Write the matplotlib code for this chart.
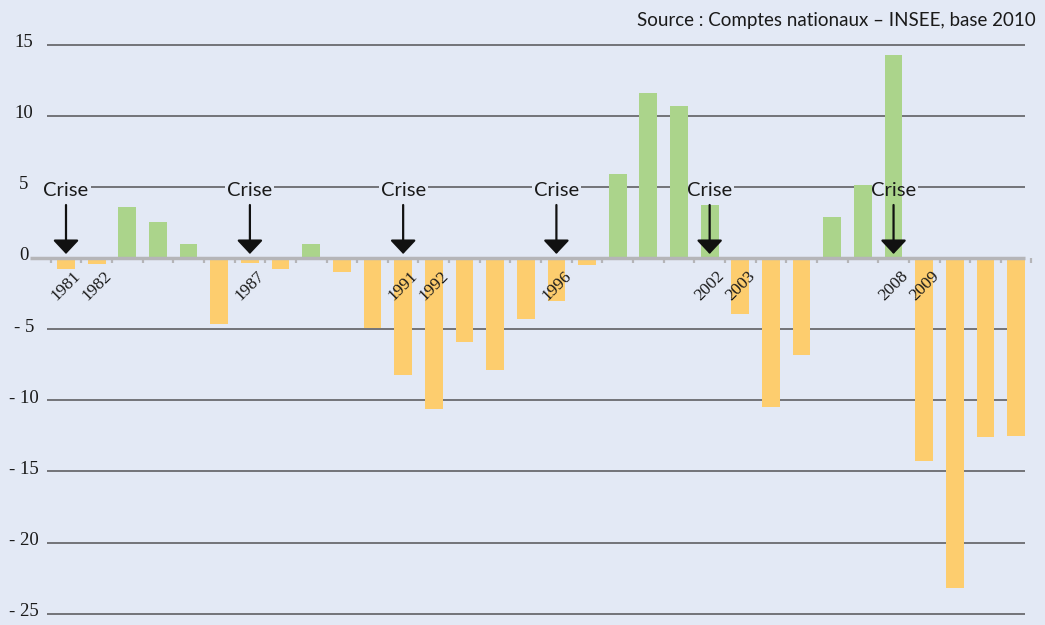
import matplotlib
matplotlib.use("Agg")
import matplotlib.pyplot as plt
import numpy as np

# annual values, 1981 -> 2012 (one bar per year)
years = list(range(1981, 2013))
values = [-0.8, -0.4, 3.55, 2.5, 1.0, -4.65, -0.33, -0.8, 1.0, -1.0,
          -4.93, -8.2, -10.6, -5.9, -7.9, -4.28, -3.0, -0.47, 5.9, 11.6,
          10.7, 3.7, -3.94, -10.47, -6.8, 2.9, 5.1, 14.25, -14.3, -23.2,
          -12.6, -12.5]

# year labels: (label, bar index)
year_labels = [("1981", 0), ("1982", 1), ("1987", 6), ("1991", 11), ("1992", 12),
               ("1996", 16), ("2002", 21), ("2003", 22), ("2008", 27), ("2009", 28)]
crisis_idx = [0, 6, 11, 16, 21, 27]

yticks = [15, 10, 5, 0, -5, -10, -15, -20, -25]
ytick_labels = ["15", "10", "5", "0", "- 5", "- 10", "- 15", "- 20", "- 25"]

source = "Source : Comptes nationaux \u2013 INSEE, base 2010"

BG = "#e3e9f5"
GREEN = "#abd48b"
ORANGE = "#fdcd6e"

# pixel -> data helpers (layout only)
def xd(px):
    return (px - 66) / 30.65

def yd(py):
    return (258 - py) / 14.23

fig = plt.figure(figsize=(10.45, 6.25), dpi=100, facecolor=BG)
ax = fig.add_axes([0, 0, 1, 1])
ax.set_facecolor(BG)
ax.axis("off")
ax.set_xlim(xd(0), xd(1045))
ax.set_ylim(yd(625), yd(0))

# grid
for t in yticks:
    if t != 0:
        ax.hlines(t, xd(47), xd(1025), color="#5f5f63", lw=1.2, zorder=1)
for t, lab in zip(yticks, ytick_labels):
    ax.text(xd(24), t + 0.15, lab, ha="center", va="center", fontsize=13.5,
            family="Liberation Serif", color="#1a1a1a")

x = np.arange(len(values))
colors = [GREEN if v > 0 else ORANGE for v in values]
ax.bar(x, values, width=0.58, color=colors, edgecolor="none", zorder=3)

# zero line + small ticks
ax.hlines(0, xd(30), xd(1025), color="#b5b5b8", lw=2.5, zorder=4)
ax.vlines(np.arange(len(values) + 1) - 0.5, yd(258), yd(263.5), color="#b5b5b8",
          lw=1.6, zorder=4)

# year labels
for lab, i in year_labels:
    ax.text(i, yd(286), lab, rotation=45, ha="center", va="center", fontsize=12.5,
            family="Liberation Serif", color="#1a1a1a", zorder=5)

# crisis annotations
for i in crisis_idx:
    # background box hides the grid line but sits under the bars
    ax.text(i, yd(191), "Crise", ha="center", va="center", fontsize=14.5,
            family="Lato", color=BG, zorder=2,
            bbox=dict(facecolor=BG, edgecolor="none", pad=1.5))
    ax.text(i, yd(191), "Crise", ha="center", va="center", fontsize=14.5,
            family="Lato", color="#1a1a1a", zorder=6)
    ax.annotate("", xy=(i, yd(254)), xytext=(i, yd(205)),
                arrowprops=dict(arrowstyle="-|>,head_length=0.85,head_width=0.8",
                                color="#111111", lw=1.6, shrinkA=0, shrinkB=0),
                zorder=6)

ax.text(xd(1036), yd(21), source, ha="right", va="center", fontsize=13.5,
        family="Lato", color="#1a1a1a")

fig.savefig("out.png", dpi=100, facecolor=BG)
